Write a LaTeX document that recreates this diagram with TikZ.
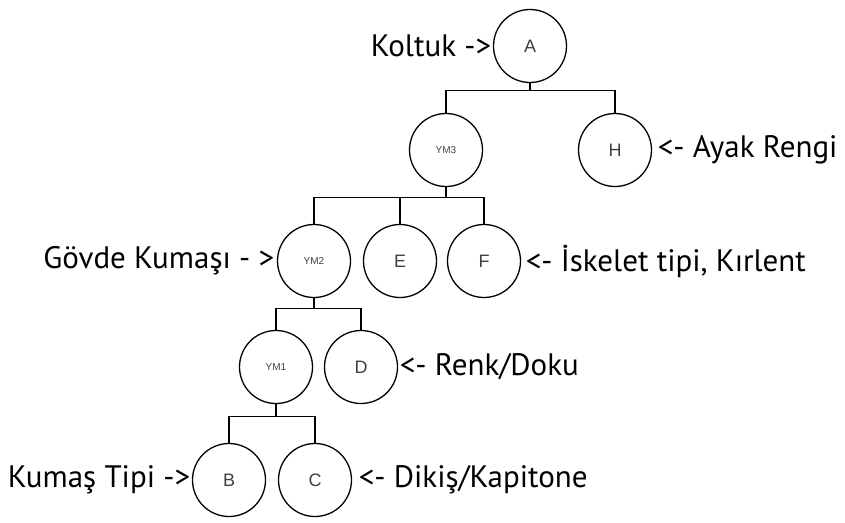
\documentclass[tikz,border=0pt]{standalone}
\usepackage{fontspec}
\setmainfont{PT Sans}
\newfontfamily\letterfont{Liberation Sans}
\usetikzlibrary{positioning}

\begin{document}
\begin{tikzpicture}[x=1pt, y=-1pt, line width=1.3pt,
    part/.style={draw, circle, minimum size=73pt, inner sep=0pt,
        font=\letterfont\fontsize{18}{20}\selectfont, text=black!75},
    sub/.style={part, font=\letterfont\fontsize{10}{12}\selectfont},
    tag/.style={inner sep=0pt, font=\fontsize{31}{36}\selectfont}]
            \useasboundingbox (0,0) rectangle (845,522);
            \node[part] (A) at (530,46) {A};
            \node[sub] (YM3) at (446,150) {YM3};
            \node[part] (H) at (615,150) {H};
            \node[sub] (YM2) at (314,261) {YM2};
            \node[part] (E) at (400,261) {E};
            \node[part] (F) at (484,261) {F};
            \node[sub] (YM1) at (276,367) {YM1};
            \node[part] (D) at (361,367) {D};
            \node[part] (B) at (229,480) {B};
            \node[part] (C) at (315,480) {C};
            \node[tag, left=1pt of A] (tA) {Koltuk ->};
            \node[tag, right=5pt of H] (tH) {<- Ayak Rengi};
            \node[tag, left=2pt of YM2] (tYM2) {Gövde Kumaşı - >};
            \node[tag, right=4pt of F] (tF) {<- İskelet tipi, Kırlent};
            \node[tag, right=1pt of D] (tD) {<- Renk/Doku};
            \node[tag, left=1pt of B] (tB) {Kumaş Tipi ->};
            \node[tag, right=6pt of C] (tC) {<- Dikiş/Kapitone};
            \draw (A.south) -- ++(0,7) coordinate (jA);
            \draw (YM3.north) |- (jA) -| (H.north);
            \draw (YM3.south) -- ++(0,10) coordinate (j3);
            \draw (YM2.north) |- (j3) -| (F.north);
            \draw (E.north) -- (E.north |- j3);
            \draw (YM2.south) -- ++(0,10) coordinate (j2);
            \draw (YM1.north) |- (j2) -| (D.north);
            \draw (YM1.south) -- ++(0,12) coordinate (j1);
            \draw (B.north) |- (j1) -| (C.north);
        \end{tikzpicture}
\end{document}
